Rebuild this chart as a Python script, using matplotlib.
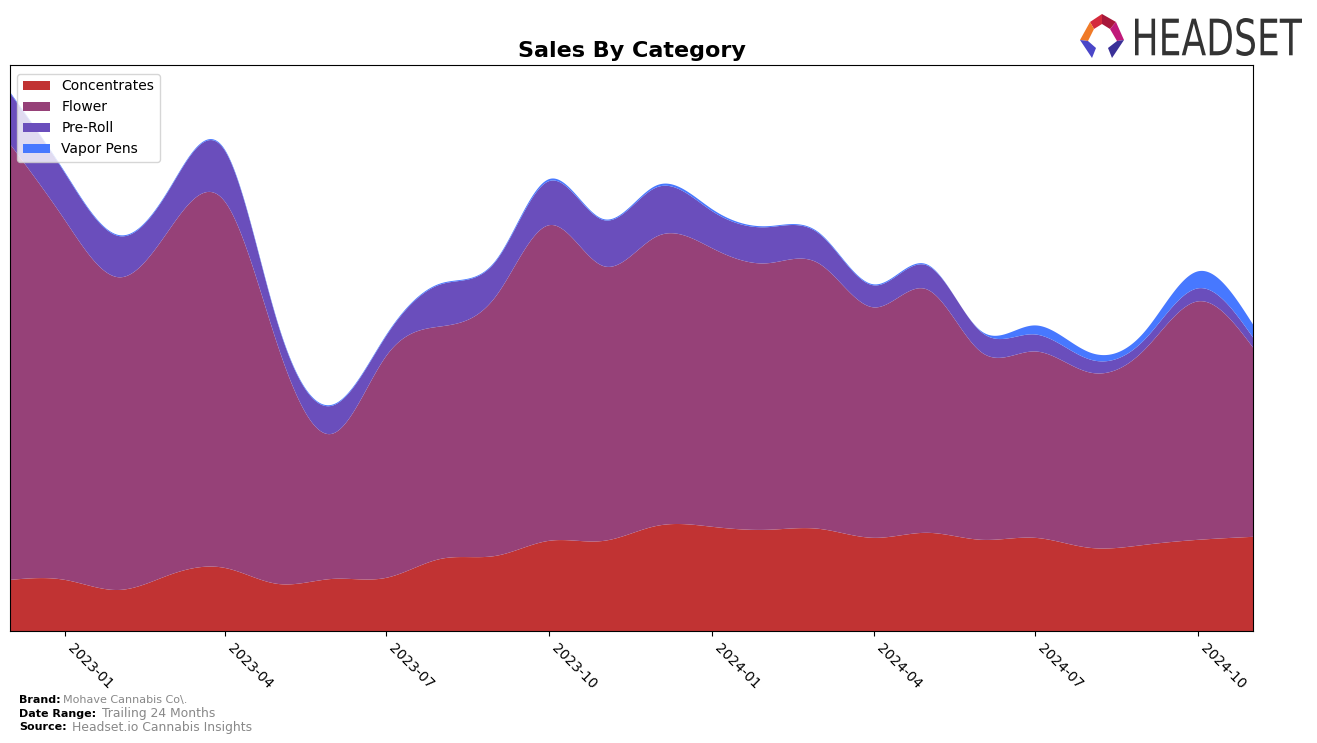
import numpy as np
import pandas as pd
import matplotlib
matplotlib.use("Agg")
import matplotlib.pyplot as plt
import matplotlib.dates as mdates
from matplotlib.patches import Polygon, PathPatch
from matplotlib.textpath import TextPath
from matplotlib.font_manager import FontProperties
from matplotlib.transforms import Affine2D

# ---- data (monthly sales, arbitrary units) ----
months = pd.date_range("2022-12-01", "2024-11-01", freq="MS")
categories = ["Concentrates", "Flower", "Pre-Roll", "Vapor Pens"]
concentrates = [51, 51, 41, 56, 63, 47, 52, 53, 72, 75, 90, 90,
                105, 104, 101, 102, 93, 98, 91, 93, 83, 86, 91, 94]
flower = [435, 359, 312, 345, 366, 238, 145, 221, 232, 259, 315, 274,
          289, 278, 266, 265, 230, 243, 187, 186, 175, 195, 238, 189]
pre_roll = [51, 47, 41, 40, 51, 22, 28, 20, 42, 35, 44, 46,
            49, 37, 36, 30, 22, 24, 20, 17, 13, 10, 13, 10]
vapor_pens = [1, 1, 1, 1, 1, 1, 1, 1, 1, 1, 2, 1,
              2, 2, 1, 1, 1, 1, 1, 9, 7, 8, 17, 13]
tick_dates = ["2023-01", "2023-04", "2023-07", "2023-10",
              "2024-01", "2024-04", "2024-07", "2024-10"]
colors = ["#c13333", "#964178", "#6a4ebc", "#4778ff"]


def natural_cubic(x, y, xs):
    x = np.asarray(x, float)
    y = np.asarray(y, float)
    n = len(x)
    h = np.diff(x)
    A = np.zeros((n, n))
    r = np.zeros(n)
    A[0, 0] = 1
    A[-1, -1] = 1
    for i in range(1, n - 1):
        A[i, i - 1] = h[i - 1]
        A[i, i] = 2 * (h[i - 1] + h[i])
        A[i, i + 1] = h[i]
        r[i] = 3 * ((y[i + 1] - y[i]) / h[i] - (y[i] - y[i - 1]) / h[i - 1])
    c = np.linalg.solve(A, r)
    b = (y[1:] - y[:-1]) / h - h * (2 * c[:-1] + c[1:]) / 3
    d = (c[1:] - c[:-1]) / (3 * h)
    idx = np.clip(np.searchsorted(x, xs) - 1, 0, n - 2)
    dx = xs - x[idx]
    return y[idx] + b[idx] * dx + c[idx] * dx ** 2 + d[idx] * dx ** 3


xnum = mdates.date2num(months.to_pydatetime())
xs = np.linspace(xnum[0], xnum[-1], 800)
series = [concentrates, flower, pre_roll, vapor_pens]
smooth = [np.clip(natural_cubic(xnum, s, xs), 0, None) for s in series]

W, H = 1317, 743
fig = plt.figure(figsize=(W / 100, H / 100), dpi=100)
ax = fig.add_axes([10 / W, 1 - 631 / H, (1253 - 10) / W, (631 - 65) / H])
ax.stackplot(xs, *smooth, labels=categories, colors=colors, linewidth=0)
ax.set_xlim(xs[0], xs[-1])
total = np.sum(smooth, axis=0)
ax.set_ylim(0, total.max() * 1.05)
ax.set_yticks([])
tick_nums = mdates.date2num(pd.to_datetime(tick_dates).to_pydatetime())
ax.set_xticks(tick_nums)
ax.set_xticklabels(tick_dates, rotation=-45, ha="left", fontsize=10)
ax.set_title("Sales By Category", fontsize=16, fontweight="bold", pad=6)
ax.legend(loc="upper left", fontsize=10, framealpha=0.8, bbox_to_anchor=(0, 0.9965))

# footer
fig.text(19 / W, 1 - 700 / H, "Brand:", fontsize=8, fontweight="bold", va="center")
fig.text(63 / W, 1 - 700 / H, "Mohave Cannabis Co\\.", fontsize=8, color="#888888", va="center")
fig.text(19 / W, 1 - 714 / H, "Date Range:", fontsize=8, fontweight="bold", va="center")
fig.text(102 / W, 1 - 714 / H, "Trailing 24 Months", fontsize=8.9, color="#888888", va="center")
fig.text(19 / W, 1 - 727 / H, "Source:", fontsize=8, fontweight="bold", va="center")
fig.text(72 / W, 1 - 727 / H, "Headset.io Cannabis Insights", fontsize=8.9, color="#888888", va="center")


# logo
def P(pts, col):
    poly = Polygon([(x / W, 1 - y / H) for x, y in pts], closed=True,
                   transform=fig.transFigure, facecolor=col, edgecolor="none")
    fig.patches.append(poly)


P([(1090, 22), (1102, 14), (1102, 24), (1094, 29)], "#d42a3c")
P([(1102, 14), (1116, 22), (1110, 29), (1102, 24)], "#a8183a")
P([(1116, 22), (1124, 40), (1117, 41), (1110, 29)], "#c01a7a")
P([(1090, 22), (1094, 29), (1088, 41), (1080, 40)], "#f07a28")
P([(1080, 40), (1088, 41), (1096, 48), (1092, 58)], "#4a46c8")
P([(1124, 40), (1117, 41), (1108, 48), (1112, 58)], "#3a3098")

tp = TextPath((0, 0), "HEADSET", size=100, prop=FontProperties(family="DejaVu Sans"))
bb = tp.get_extents()
x0, x1, y0, y1 = 1135, 1302, 18, 56
sx = (x1 - x0) / bb.width
sy = (y1 - y0) / bb.height
tr = (Affine2D().translate(-bb.x0, -bb.y0).scale(sx, sy)
      .translate(x0, H - y1).scale(1 / W, 1 / H) + fig.transFigure)
fig.patches.append(PathPatch(tp, transform=tr, facecolor="#333333", edgecolor="none"))

fig.savefig("out.png", dpi=100)
